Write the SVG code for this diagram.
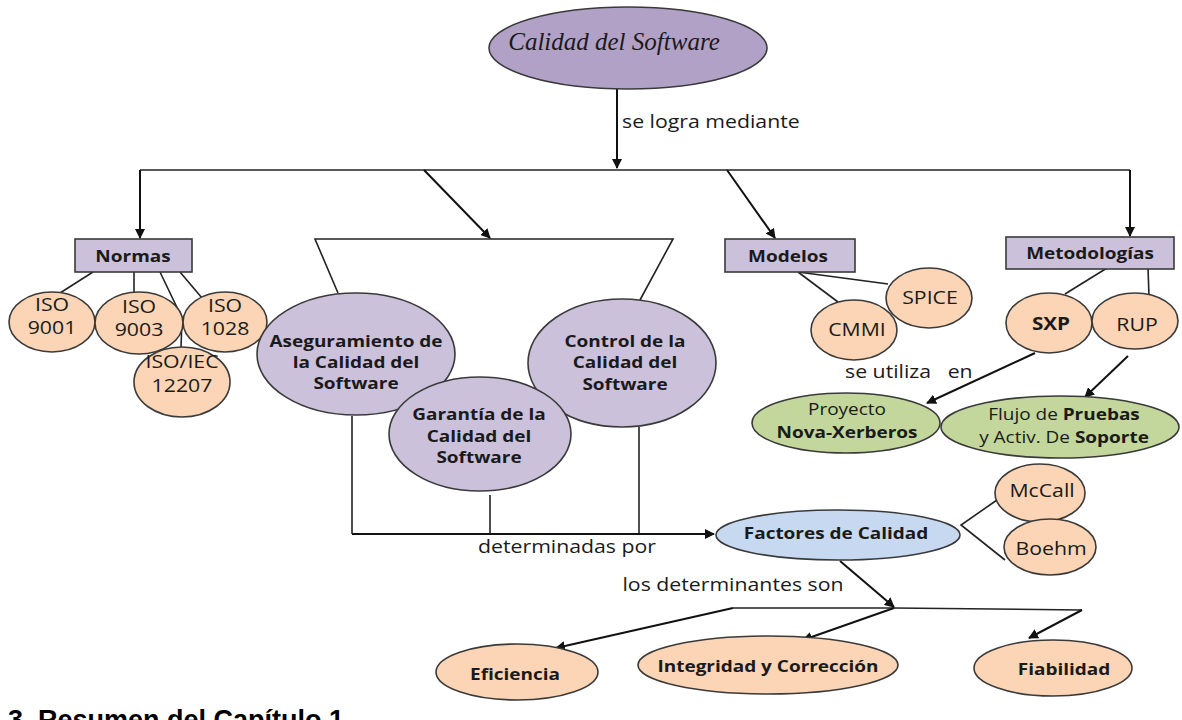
<svg xmlns="http://www.w3.org/2000/svg" width="1182" height="720" viewBox="0 0 1182 720">
  <style>
    .n { stroke: #3a3a3a; stroke-width: 1.6; }
    .top { fill: #b2a1c7; }
    .pu { fill: #ccc1da; }
    .or { fill: #fbd5b5; }
    .gr { fill: #c3d69b; }
    .bl { fill: #c6d9f1; }
    .ln { stroke: #222; stroke-width: 1.6; fill: none; }
    .ar { stroke: #111; stroke-width: 2; fill: none; marker-end: url(#ah); }
    text { font-family: "Open Sans", "Noto Sans", sans-serif; fill: #1a1a1a; }
    .b { font-weight: 700; font-size: 16.5px; text-anchor: middle; }
    .r { font-size: 18.5px; text-anchor: middle; }
    .l { font-size: 18.5px; }
    .script { font-family: "Liberation Serif", "DejaVu Serif", serif; font-style: italic; font-size: 25px; text-anchor: middle; }
    .head { font-family: "Liberation Sans", Arial, sans-serif; font-weight: 700; font-size: 27px; fill: #000; }
  </style>
  <defs>
    <marker id="ah" viewBox="0 0 10 10" refX="9" refY="5" markerWidth="5" markerHeight="5" orient="auto">
      <path d="M0,0 L10,5 L0,10 z" fill="#111"/>
    </marker>
  </defs>

  <rect width="1182" height="720" fill="#fff"/>

  <!-- connectors -->
  <g id="connectors">
    <line class="ar" x1="617" y1="89" x2="617" y2="168"/>
    <polyline class="ln" points="140,170 1130,170"/>
    <line class="ar" x1="140" y1="170" x2="140" y2="238"/>
    <line class="ar" x1="424" y1="170" x2="490" y2="238"/>
    <line class="ar" x1="727" y1="170" x2="775" y2="238"/>
    <line class="ar" x1="1130" y1="170" x2="1130" y2="236"/>
    <!-- funnel over the three quality activities -->
    <polyline class="ln" points="338,293 315,239 673,239 640,300"/>
    <!-- Normas branches -->
    <line class="ln" x1="93" y1="272" x2="60" y2="293"/>
    <line class="ln" x1="134" y1="272" x2="134" y2="293"/>
    <polyline class="ln" points="160,272 182,318 181,348"/>
    <line class="ln" x1="180" y1="272" x2="202" y2="298"/>
    <!-- Modelos branches -->
    <line class="ln" x1="798" y1="272" x2="888" y2="284"/>
    <line class="ln" x1="798" y1="272" x2="838" y2="302"/>
    <!-- Metodologías branches -->
    <line class="ln" x1="1107" y1="268" x2="1065" y2="294"/>
    <line class="ln" x1="1148" y1="268" x2="1149" y2="296"/>
    <line class="ar" x1="1035" y1="353" x2="927" y2="403"/>
    <line class="ar" x1="1128" y1="356" x2="1085" y2="397"/>
    <!-- activities to factors -->
    <line class="ln" x1="352" y1="416" x2="352" y2="534"/>
    <line class="ln" x1="490" y1="495" x2="490" y2="534"/>
    <line class="ln" x1="639" y1="427" x2="639" y2="534"/>
    <line class="ar" x1="352" y1="534" x2="714" y2="534"/>
    <!-- factor models -->
    <polyline class="ln" points="997,500 961,525 1005,560"/>
    <!-- determinants -->
    <line class="ar" x1="840" y1="561" x2="894" y2="607"/>
    <polyline class="ln" points="733,608 894,608 1082,610"/>
    <line class="ar" x1="733" y1="608" x2="556" y2="648"/>
    <line class="ar" x1="894" y1="608" x2="803" y2="640"/>
    <line class="ar" x1="1082" y1="610" x2="1029" y2="638"/>
  </g>

  <g id="calidad-software">
    <ellipse class="n top" cx="628" cy="48" rx="139" ry="41"/>
    <text class="script" x="614" y="50">Calidad del Software</text>
  </g>

  <text class="l" transform="translate(622,128) scale(1.15 1)">se logra mediante</text>

  <g id="normas">
    <rect class="n pu" x="75" y="239" width="117" height="33"/>
    <text class="b" transform="translate(133,262) scale(1.15 1)">Normas</text>
  </g>
  <g id="iso-9001">
    <ellipse class="n or" cx="52" cy="322" rx="43" ry="30"/>
    <text class="r" transform="translate(52,0) scale(1.15 1)"><tspan x="0" y="311">ISO</tspan><tspan x="0" y="334">9001</tspan></text>
  </g>
  <g id="iso-9003">
    <ellipse class="n or" cx="139" cy="323" rx="44" ry="31"/>
    <text class="r" transform="translate(139,0) scale(1.15 1)"><tspan x="0" y="313">ISO</tspan><tspan x="0" y="336">9003</tspan></text>
  </g>
  <g id="iso-1028">
    <ellipse class="n or" cx="225" cy="322" rx="42" ry="30"/>
    <text class="r" transform="translate(225,0) scale(1.15 1)"><tspan x="0" y="312">ISO</tspan><tspan x="0" y="335">1028</tspan></text>
  </g>
  <g id="iso-iec-12207">
    <ellipse class="n or" cx="182" cy="382" rx="48" ry="35"/>
    <text class="r" transform="translate(182,0) scale(1.15 1)"><tspan x="0" y="368">ISO/IEC</tspan><tspan x="0" y="392">12207</tspan></text>
  </g>

  <g id="aseguramiento">
    <ellipse class="n pu" cx="356" cy="354" rx="99" ry="61"/>
    <text class="b" transform="translate(356,0) scale(1.15 1)"><tspan x="0" y="347">Aseguramiento de</tspan><tspan x="0" y="368">la Calidad del</tspan><tspan x="0" y="389">Software</tspan></text>
  </g>
  <g id="control">
    <ellipse class="n pu" cx="622" cy="363" rx="94" ry="64"/>
    <text class="b" transform="translate(625,0) scale(1.15 1)"><tspan x="0" y="347">Control de la</tspan><tspan x="0" y="368">Calidad del</tspan><tspan x="0" y="390">Software</tspan></text>
  </g>
  <g id="garantia">
    <ellipse class="n pu" cx="480" cy="434" rx="91" ry="57"/>
    <text class="b" transform="translate(479,0) scale(1.15 1)"><tspan x="0" y="420">Garantía de la</tspan><tspan x="0" y="442">Calidad del</tspan><tspan x="0" y="463">Software</tspan></text>
  </g>

  <g id="modelos">
    <rect class="n pu" x="725" y="239" width="130" height="33"/>
    <text class="b" transform="translate(788,262) scale(1.15 1)">Modelos</text>
  </g>
  <g id="cmmi">
    <ellipse class="n or" cx="854" cy="330" rx="43" ry="30"/>
    <text class="r" transform="translate(857,336) scale(1.15 1)">CMMI</text>
  </g>
  <g id="spice">
    <ellipse class="n or" cx="929" cy="298" rx="43" ry="30"/>
    <text class="r" transform="translate(930,304) scale(1.15 1)">SPICE</text>
  </g>

  <g id="metodologias">
    <rect class="n pu" x="1006" y="237" width="168" height="32"/>
    <text class="b" transform="translate(1090,259) scale(1.15 1)">Metodologías</text>
  </g>
  <g id="sxp">
    <ellipse class="n or" cx="1049" cy="323" rx="43" ry="30"/>
    <text class="b" transform="translate(1051,330) scale(1.15 1)" style="font-size:18px">SXP</text>
  </g>
  <g id="rup">
    <ellipse class="n or" cx="1135" cy="321" rx="43" ry="28"/>
    <text class="r" transform="translate(1137,331) scale(1.15 1)">RUP</text>
  </g>

  <text class="l" transform="translate(845,378) scale(1.15 1)" xml:space="preserve">se utiliza   en</text>

  <g id="nova-xerberos">
    <ellipse class="n gr" cx="846" cy="423" rx="94" ry="30"/>
    <text class="r" transform="translate(847,0) scale(1.15 1)" style="font-size:16.5px"><tspan x="0" y="415">Proyecto</tspan><tspan x="0" y="438" font-weight="700">Nova-Xerberos</tspan></text>
  </g>
  <g id="flujo-pruebas">
    <ellipse class="n gr" cx="1060" cy="427" rx="119" ry="31"/>
    <text class="r" transform="translate(1064,0) scale(1.15 1)" style="font-size:16.5px"><tspan x="0" y="420">Flujo de <tspan font-weight="700">Pruebas</tspan></tspan><tspan x="0" y="443">y Activ. De <tspan font-weight="700">Soporte</tspan></tspan></text>
  </g>

  <text class="r" transform="translate(567,553) scale(1.15 1)">determinadas por</text>

  <g id="factores">
    <ellipse class="n bl" cx="838" cy="535" rx="122" ry="25"/>
    <text class="b" transform="translate(836,539) scale(1.15 1)">Factores de Calidad</text>
  </g>
  <g id="mccall">
    <ellipse class="n or" cx="1040" cy="493" rx="45" ry="29"/>
    <text class="r" transform="translate(1042,497) scale(1.15 1)">McCall</text>
  </g>
  <g id="boehm">
    <ellipse class="n or" cx="1050" cy="547" rx="46" ry="28"/>
    <text class="r" transform="translate(1051,555) scale(1.15 1)">Boehm</text>
  </g>

  <text class="r" transform="translate(733,591) scale(1.15 1)">los determinantes son</text>

  <g id="eficiencia">
    <ellipse class="n or" cx="517" cy="672" rx="81" ry="28"/>
    <text class="b" transform="translate(515,680) scale(1.15 1)">Eficiencia</text>
  </g>
  <g id="integridad">
    <ellipse class="n or" cx="768" cy="665" rx="130" ry="29"/>
    <text class="b" transform="translate(768,672) scale(1.15 1)">Integridad y Corrección</text>
  </g>
  <g id="fiabilidad">
    <ellipse class="n or" cx="1053" cy="668" rx="79" ry="28"/>
    <text class="b" transform="translate(1064,675) scale(1.15 1)">Fiabilidad</text>
  </g>

  <!-- section heading running off the lower edge of the page -->
  <text class="head" x="8" y="729">3. Resumen del Capítulo 1</text>
</svg>
